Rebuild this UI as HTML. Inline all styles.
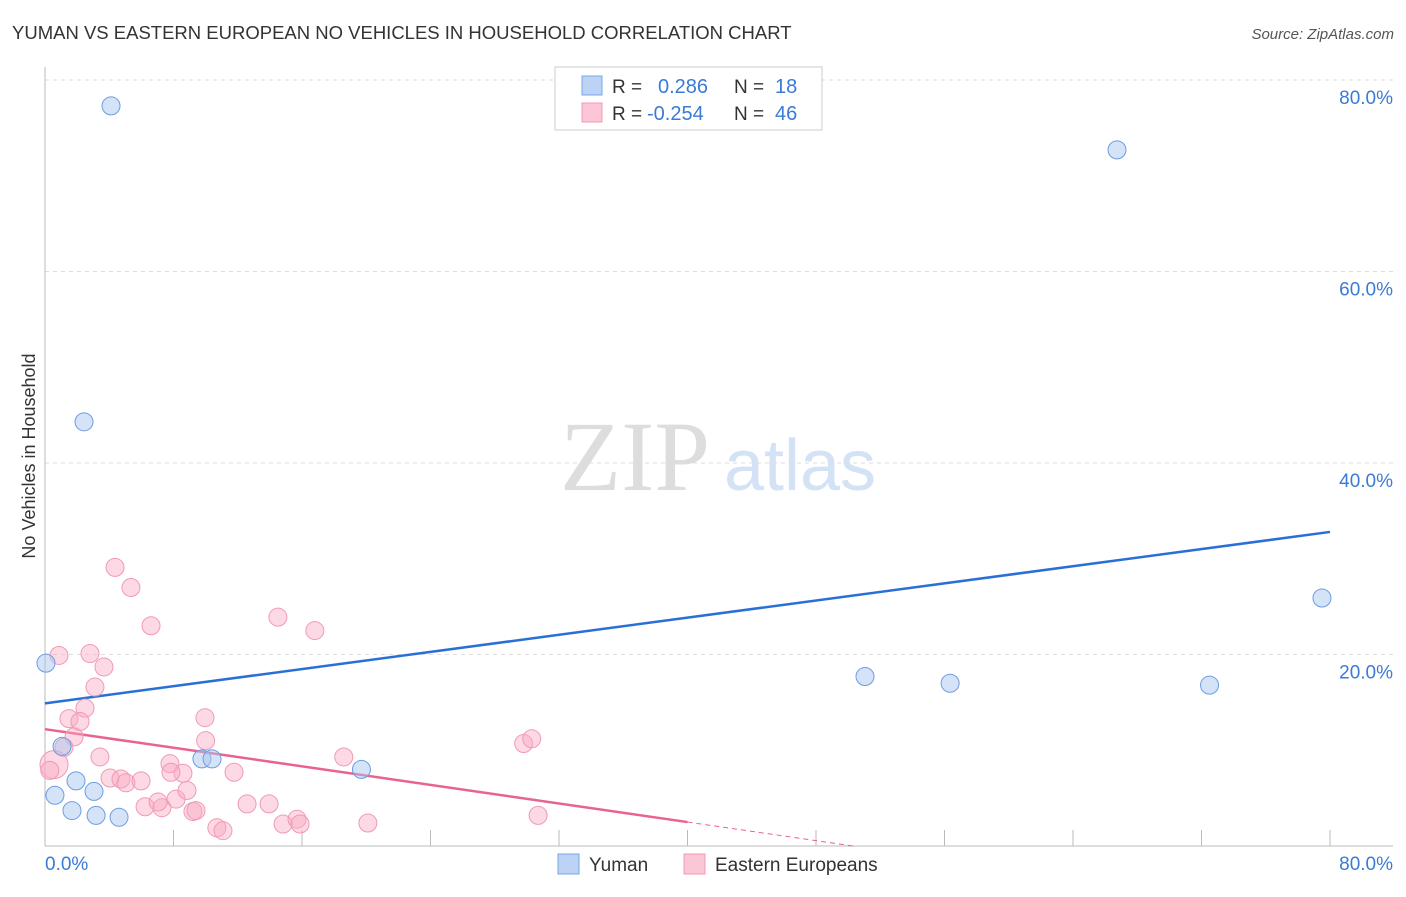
<!DOCTYPE html>
<html><head><meta charset="utf-8"><style>
body{margin:0;background:#fff;font-family:"Liberation Sans",sans-serif;}
svg text{font-family:"Liberation Sans",sans-serif;}
</style></head><body>
<svg id="c" width="1406" height="892">
<text x="12" y="39" font-size="18.5" fill="#333">YUMAN VS EASTERN EUROPEAN NO VEHICLES IN HOUSEHOLD CORRELATION CHART</text>
<text x="1394" y="39" font-size="15" fill="#555" font-style="italic" text-anchor="end">Source: ZipAtlas.com</text>
<text x="35" y="456" font-size="18" fill="#333" text-anchor="middle" transform="rotate(-90 35 456)">No Vehicles in Household</text>
<g><text x="635" y="490" font-size="100" fill="#ddd" style="font-family:'Liberation Serif',serif" text-anchor="middle">ZIP</text><text x="800" y="490" font-size="72" fill="#d4e2f5" text-anchor="middle">atlas</text></g>
<g id="grid"></g><g id="axes"></g><g id="trend"></g><g id="pts"></g>
<g>
<rect x="555" y="67" width="267" height="63" fill="#fff" stroke="#ccc"/>
<rect x="582" y="76" width="20" height="19" fill="#bcd3f5" stroke="#7aa6e6"/>
<text x="612" y="93" font-size="19" fill="#333">R = </text><text x="658" y="93" font-size="20" fill="#3a7bd5">0.286</text>
<text x="734" y="93" font-size="19" fill="#333">N = </text><text x="775" y="93" font-size="20" fill="#3a7bd5">18</text>
<rect x="582" y="103" width="20" height="19" fill="#fbc6d5" stroke="#f09ab3"/>
<text x="612" y="120" font-size="19" fill="#333">R = </text><text x="647" y="120" font-size="20" fill="#3a7bd5">-0.254</text>
<text x="734" y="120" font-size="19" fill="#333">N = </text><text x="775" y="120" font-size="20" fill="#3a7bd5">46</text>
</g>
<g>
<rect x="558" y="854" width="21" height="20" fill="#bcd3f5" stroke="#7aa6e6"/>
<text x="589" y="871" font-size="19" fill="#333">Yuman</text>
<rect x="684" y="854" width="21" height="20" fill="#fbc6d5" stroke="#f09ab3"/>
<text x="715" y="871" font-size="19" fill="#333">Eastern Europeans</text>
</g>
</svg>
<script>
const yTicks=[20,40,60,80];
const yTickLabels=["20.0%","40.0%","60.0%","80.0%"];
const xLabels=["0.0%","80.0%"];
const yumanX=[4.11,66.74,2.43,79.5,0.06,51.05,56.35,72.5,1.06,9.77,10.4,19.7,1.93,0.62,3.05,1.68,3.18,4.61];
const yumanY=[77.3,72.7,44.3,25.9,19.1,17.7,17.0,16.8,10.4,9.1,9.1,8.0,6.8,5.3,5.7,3.7,3.2,3.0];
const eeX=[0.87,4.36,5.35,6.6,14.5,16.8,2.8,3.67,3.11,2.49,1.49,2.18,1.81,1.18,0.56,3.42,9.96,10.0,11.77,7.78,8.59,7.84,4.05,4.73,5.04,5.98,6.23,7.28,7.04,8.16,8.84,9.21,9.4,10.7,11.08,12.58,13.95,14.82,15.69,15.88,18.6,20.1,29.8,30.3,30.7,0.3];
const eeY=[19.9,29.1,27.0,23.0,23.9,22.5,20.1,18.7,16.6,14.4,13.3,13.0,11.4,10.3,8.5,9.3,13.4,11.0,7.7,8.6,7.6,7.7,7.1,7.0,6.6,6.8,4.1,4.0,4.6,4.9,5.8,3.6,3.7,1.9,1.6,4.4,4.4,2.3,2.8,2.3,9.3,2.4,10.7,11.2,3.2,7.9];
const yumanTrend=[14.9,32.8];
const eeTrend=[12.2,-0.2425];
const NS="http://www.w3.org/2000/svg";
const X=v=>45+v/80*1285, Y=v=>846-v/80*766;
function mk(p,t,a){const e=document.createElementNS(NS,t);for(const k in a)e.setAttribute(k,a[k]);document.getElementById(p).appendChild(e);return e;}
yTicks.forEach((t,i)=>{
 const g=mk('grid','line',{x1:45,x2:1393,y1:Y(t),y2:Y(t),stroke:'#ddd','stroke-dasharray':'4,4'});
 
 
 const l=mk('grid','text',{x:1393,y:Y(t)+24,'font-size':19,fill:'#3a7bd5','text-anchor':'end'});l.textContent=yTickLabels[i];
 
 
});
mk('axes','line',{x1:45,x2:45,y1:67,y2:846,stroke:'#bbb'});
const xa=mk('axes','line',{x1:45,x2:1393,y1:846,y2:846,stroke:'#bbb'});


for(let i=1;i<=10;i++){mk('axes','line',{x1:X(i*8),x2:X(i*8),y1:830,y2:846,stroke:'#bbb'});}
let t0=mk('axes','text',{x:45,y:870,'font-size':19,fill:'#3a7bd5'});t0.textContent=xLabels[0];


let t1=mk('axes','text',{x:1393,y:870,'font-size':19,fill:'#3a7bd5','text-anchor':'end'});t1.textContent=xLabels[1];


const bt=mk('trend','line',{x1:X(0),y1:Y(yumanTrend[0]),x2:X(80),y2:Y(yumanTrend[1]),stroke:'#2a6fd6','stroke-width':2.5});


const pe=v=>eeTrend[0]+eeTrend[1]*v;
const zeroX=-eeTrend[0]/eeTrend[1];
const pt=mk('trend','line',{x1:X(0),y1:Y(pe(0)),x2:X(40),y2:Y(pe(40)),stroke:'#e8638f','stroke-width':2.5});


const pd=mk('trend','line',{x1:X(40),y1:Y(pe(40)),x2:X(zeroX),y2:Y(0),stroke:'#e8638f','stroke-width':1,'stroke-dasharray':'5,4'});


eeX.forEach((x,i)=>{const c=mk('pts','circle',{cx:X(x),cy:Y(eeY[i]),r:i==14?14:9,fill:'rgba(248,170,195,0.45)',stroke:'#f09ab3','stroke-width':1});
 
 });
yumanX.forEach((x,i)=>{const c=mk('pts','circle',{cx:X(x),cy:Y(yumanY[i]),r:9,fill:'rgba(170,200,240,0.5)',stroke:'#6e9de0','stroke-width':1});
 
 });
</script>
</body></html>
